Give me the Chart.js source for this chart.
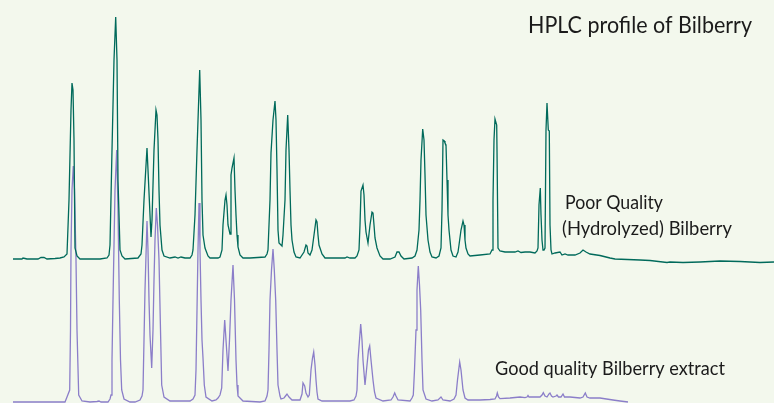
<!DOCTYPE html>
<html>
<head>
<meta charset="utf-8">
<title>HPLC profile of Bilberry</title>
<script src="https://cdn.jsdelivr.net/npm/chart.js@4.4.1/dist/chart.umd.min.js"></script>
<style>
  html, body { margin: 0; padding: 0; background: #f3f8ed; }
  canvas { display: block; }
</style>
</head>
<body>
<canvas id="hplc" width="774" height="403"></canvas>
<script>
// retention time (s) and detector signal (mAU) for the hydrolyzed sample
const poorTime = [
  13, 22, 23, 25, 27, 38, 41, 44, 47, 55, 60, 64, 67, 69, 71, 72, 73, 74, 75, 77, 80,
  100, 107, 109, 110, 112, 114, 115.7, 117, 118, 120, 122, 125,
  138, 141, 142, 144, 147, 148, 150, 151, 152, 154, 156, 157, 158, 159, 160, 162, 164, 170,
  175, 178, 181, 185, 190, 192, 193, 195, 197, 199.7, 201, 202, 203, 205, 208, 210,
  218, 220, 222, 223, 225, 226, 227, 228, 230, 231, 232, 234, 235, 236, 237, 238, 240, 243,
  250, 265, 267, 268, 270, 271, 273, 275, 276, 277, 278, 279, 281, 282, 283, 285, 286, 287.7,
  289, 290, 291, 292, 294, 296, 300, 304, 306, 307, 308, 310, 312, 314, 316, 317, 318, 319,
  320, 322, 325, 345, 347, 350, 355, 357, 359, 360, 361, 363, 364, 365, 366, 368, 370, 372,
  373, 374, 375, 377, 380, 383, 390, 395, 397, 399, 401, 404, 412, 415, 417, 419, 420, 421,
  422.7, 424, 425, 426, 428, 430, 432, 436, 439, 441, 442, 443, 444.3, 445, 446, 447, 448,
  449, 451, 453, 456, 458, 459, 461, 463, 464, 465, 466, 468, 470, 480, 490, 492, 493, 494,
  495, 496.7, 497, 498, 500, 505, 515, 518, 521, 525, 530, 535, 537, 538, 539, 540.3, 541,
  542, 543, 544, 545, 546, 547, 548.3, 549.3, 550, 551, 552, 555, 560, 562, 565, 568, 575,
  580, 583, 586, 590, 600, 610, 615, 640, 650, 667, 670, 683, 700, 720, 740, 760, 774
];
const poorSignal = [
  0, 0, 1, 0.5, 0, 0, 1.5, 1.5, 0, 0.5, 1, 2, 5, 59, 149, 176, 169, 119, 11, 3, 0,
  0, 1, 4, 14, 109, 199, 242, 199, 79, 9, 3, 0,
  1, 5, 14, 59, 111, 89, 44, 22, 39, 109, 149, 144, 119, 69, 34, 9, 3, 1,
  2, 1, 2, 1, 1, 4, 9, 44, 109, 189, 139, 59, 24, 11, 3, 1,
  1, 2, 9, 34, 59, 64, 54, 34, 25, 84, 91, 101, 69, 44, 24, 12, 4, 1,
  1, 2, 5, 9, 59, 106, 139, 158, 139, 89, 29, 16, 14, 13, 24, 59, 109, 144,
  109, 69, 34, 19, 7, 2, 1, 7, 14, 13, 6, 4, 9, 24, 39, 37, 24, 14,
  11, 5, 1, 1, 2, 1, 1, 3, 9, 34, 68, 74, 64, 39, 27, 16, 34, 47,
  46, 34, 21, 11, 3, 0, 0, 2, 7, 7, 3, 0, 1, 3, 9, 29, 59, 99,
  130, 119, 84, 44, 19, 7, 2, 1, 3, 11, 49, 119, 118, 116, 114, 79, 44,
  29, 9, 3, 2, 7, 14, 29, 38, 34, 19, 11, 5, 3, 4, 5, 9, 59, 119,
  140, 134, 109, 11, 8, 7, 7, 8, 6.5, 7, 7, 6, 8, 11, 54, 71, 44,
  19, 9, 9, 11, 129, 156, 129, 128, 34, 9, 5, 6, 7, 4, 5, 4, 4,
  6, 9, 7, 5, 3.5, 1, 0, -1, -1.5, -3.5, -3, -3.5, -3, -2, -2.5, -3.5, -3
];
// the hydrolyzed trace is stacked above the extract trace
const poorOffset = 143;

// retention time (s) and detector signal (mAU) for the good extract
const goodTime = [
  13, 40, 65, 67, 69.7, 70.5, 71, 72, 73.3, 74.5, 76, 77, 78.7, 82, 90, 97, 99, 101,
  108, 110, 111, 112, 113, 115, 116.7, 118, 119.3, 120.5, 121.7, 124, 130, 135,
  140, 142, 143, 144, 145, 147, 148, 149, 150, 151.7, 153, 154, 155, 156.3, 157.5, 159,
  160.5, 161.7, 164, 170, 180, 190, 193, 195, 196, 197, 198, 199, 200, 201, 202, 203,
  204.3, 206, 212, 216, 218, 220, 221.7, 223, 224.7, 226, 228, 229.5, 231, 233, 234.5,
  236, 237, 238, 243, 260, 265, 267, 268, 269, 270, 271.5, 273, 274.3, 275.7, 277, 278,
  280, 281, 284, 285.5, 287, 289, 292, 300, 302, 303, 304.7, 306, 308, 309.3, 311, 312.5,
  313.7, 315, 316, 317, 318, 322, 330, 350, 354, 356, 357, 358, 360.7, 362, 363, 365,
  367, 368.5, 369.7, 371, 373, 374.5, 376, 383, 391, 393, 394.7, 396, 398, 410, 412,
  413.3, 414.5, 416, 417, 418.3, 419.5, 420.7, 422, 423, 426, 432, 438, 441, 443, 450,
  454, 456, 457.5, 459.7, 461, 463, 465, 468, 480, 490, 495, 496.5, 497.3, 498.5, 500,
  510, 515, 520, 525, 527, 528, 529, 535, 540, 542, 543.3, 545, 547, 549, 550, 551.5,
  553, 556, 557, 558.5, 561, 563, 564.5, 567, 570, 575, 580, 583, 585.3, 587, 590, 600,
  613, 620, 628
];
const goodSignal = [
  0, 0, 0, 5, 12, 72, 152, 212, 236, 212, 142, 72, 7, 1, 0, 0.5, 1, 0,
  0, 3, 7, 42, 102, 212, 252, 192, 102, 42, 12, 3, 0, 0,
  2, 6, 12, 62, 112, 181, 152, 102, 67, 34, 72, 122, 162, 194, 177, 142,
  72, 17, 5, 1, 1, 1, 3, 7, 32, 92, 152, 199, 152, 102, 62, 44,
  17, 5, 1, 2, 4, 7, 14, 52, 82, 62, 31, 62, 102, 137, 102,
  42, 17, 6, 1, 0, 1, 6, 12, 52, 102, 132, 153, 132, 102, 52, 17,
  6, 3, 4, 6, 8, 5, 2, 2, 8, 19, 16, 9, 5, 7, 32, 44,
  50, 37, 22, 10, 3, 1, 1, 1, 2, 6, 12, 42, 78, 62, 42, 17,
  37, 52, 56, 42, 22, 10, 4, 1, 2, 5, 9, 6, 2, 1, 4,
  7, 32, 72, 112, 136, 117, 92, 42, 12, 3, 1, 2, 5, 2, 1,
  3, 7, 22, 40, 32, 12, 4, 2, 2, 2.5, 3, 6, 9, 5, 3.3,
  4, 4.5, 5, 4.3, 5, 6.5, 5, 5, 5, 7, 9.3, 6, 5, 8, 9, 6,
  5, 6, 7, 5, 5, 8, 5, 5, 5, 4.5, 4, 5, 9, 5, 4, 4,
  2, 1, 0
];

const labels = [
  { text: "HPLC profile of Bilberry", time: 528, signal: 369.5, width: 224, size: 23 },
  { text: "Poor Quality", time: 565, signal: 193, width: 98, size: 18.5 },
  { text: "(Hydrolyzed) Bilberry", time: 562, signal: 167, width: 170, size: 18.5 },
  { text: "Good quality Bilberry extract", time: 495, signal: 27, width: 230, size: 18.5 }
];

function toPoints(times, signals, offset) {
  return times.map((t, i) => ({ x: t, y: signals[i] + offset }));
}

// paper-coloured background behind the traces
const background = {
  id: "background",
  beforeDraw(chart) {
    const ctx = chart.ctx;
    ctx.save();
    ctx.fillStyle = "#f3f8ed";
    ctx.fillRect(0, 0, chart.width, chart.height);
    ctx.restore();
  }
};

// free text placed in data coordinates; the glyphs keep their height and
// are squeezed sideways to the wanted width
const annotations = {
  id: "annotations",
  afterDraw(chart) {
    const ctx = chart.ctx;
    const xs = chart.scales.x;
    const ys = chart.scales.y;
    labels.forEach((l) => {
      ctx.save();
      ctx.fillStyle = "#1b1b1b";
      ctx.textBaseline = "alphabetic";
      ctx.font = l.size + "px Lato";
      let w = ctx.measureText(l.text).width;
      ctx.translate(xs.getPixelForValue(l.time), ys.getPixelForValue(l.signal));
      ctx.scale(l.width / w, 1);
      ctx.fillText(l.text, 0, 0);
      ctx.restore();
    });
  }
};

const grafico = document.getElementById("hplc");

const chart = new Chart(grafico, {
  type: "line",
  data: {
    datasets: [
      {
        label: "Poor Quality (Hydrolyzed) Bilberry",
        data: toPoints(poorTime, poorSignal, poorOffset),
        borderColor: "#006a5b",
        borderWidth: 1.3,
        pointRadius: 0,
        tension: 0,
        clip: false
      },
      {
        label: "Good quality Bilberry extract",
        data: toPoints(goodTime, goodSignal, 0),
        borderColor: "#8b7ec9",
        borderWidth: 1.3,
        pointRadius: 0,
        tension: 0,
        clip: false
      }
    ]
  },
  options: {
    responsive: false,
    animation: false,
    layout: { padding: 0 },
    plugins: {
      legend: { display: false },
      tooltip: { enabled: false }
    },
    scales: {
      x: { type: "linear", min: 0, max: 774, display: false },
      y: { type: "linear", min: -1, max: 402, display: false }
    }
  },
  plugins: [background, annotations]
});
</script>
</body>
</html>
